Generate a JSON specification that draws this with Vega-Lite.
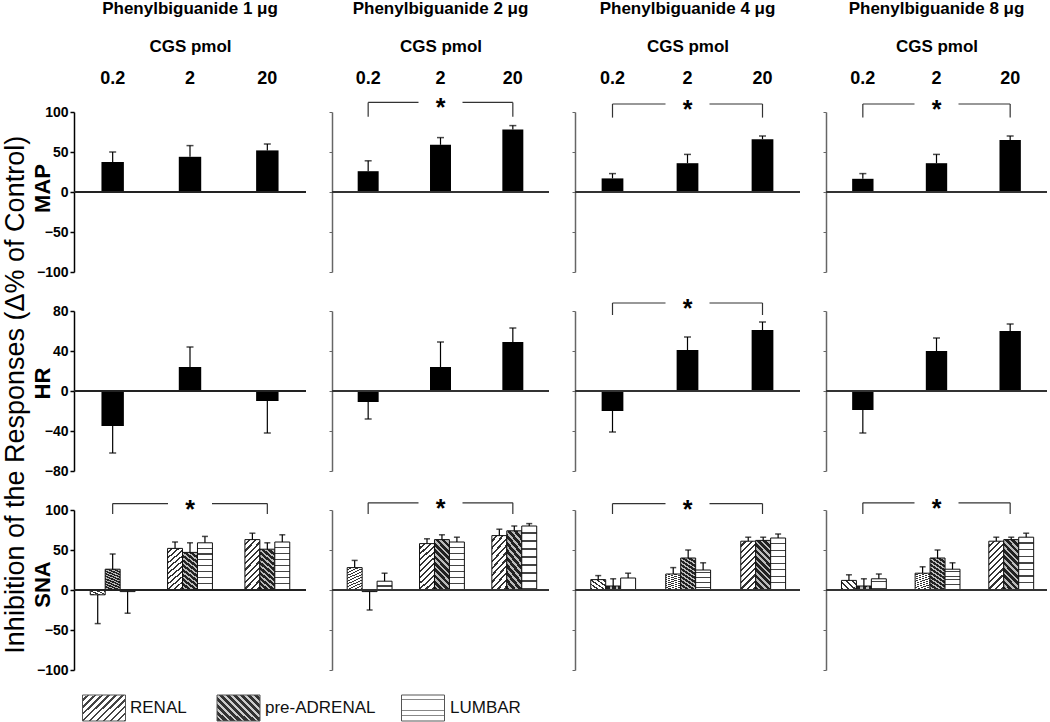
{
"$schema": "https://vega.github.io/schema/vega-lite/v6.json",
"padding": {"left": 1, "top": 0, "right": 0, "bottom": 0},
"config": {"font": "Liberation Sans", "view": {"stroke": null}, "axis": {"grid": false}, "axisY": {"tickCount": 10}, "title": {"fontSize": 17, "fontWeight": "bold", "offset": 19, "color": "#000"}},
"title": {"text": "Inhibition of the Responses (Δ% of Control)", "orient": "left", "anchor": "middle", "fontSize": 27, "fontWeight": "normal", "offset": 1, "dx": -34, "color": "#000"},
"datasets": {
"bars": [
{"param":"MAP","pbg":"1","cgs":"0.2","series":"all","value":37.5,"err":50},
{"param":"MAP","pbg":"1","cgs":"2","series":"all","value":44,"err":58},
{"param":"MAP","pbg":"1","cgs":"20","series":"all","value":52,"err":60},
{"param":"MAP","pbg":"2","cgs":"0.2","series":"all","value":26,"err":39},
{"param":"MAP","pbg":"2","cgs":"2","series":"all","value":59,"err":68},
{"param":"MAP","pbg":"2","cgs":"20","series":"all","value":78,"err":83},
{"param":"MAP","pbg":"4","cgs":"0.2","series":"all","value":17,"err":23},
{"param":"MAP","pbg":"4","cgs":"2","series":"all","value":36,"err":47},
{"param":"MAP","pbg":"4","cgs":"20","series":"all","value":66,"err":70},
{"param":"MAP","pbg":"8","cgs":"0.2","series":"all","value":16.5,"err":23},
{"param":"MAP","pbg":"8","cgs":"2","series":"all","value":36,"err":47},
{"param":"MAP","pbg":"8","cgs":"20","series":"all","value":65,"err":70},
{"param":"HR","pbg":"1","cgs":"0.2","series":"all","value":-35,"err":-62},
{"param":"HR","pbg":"1","cgs":"2","series":"all","value":24,"err":44},
{"param":"HR","pbg":"1","cgs":"20","series":"all","value":-10,"err":-42},
{"param":"HR","pbg":"2","cgs":"0.2","series":"all","value":-11,"err":-28},
{"param":"HR","pbg":"2","cgs":"2","series":"all","value":24,"err":49},
{"param":"HR","pbg":"2","cgs":"20","series":"all","value":49,"err":63},
{"param":"HR","pbg":"4","cgs":"0.2","series":"all","value":-20,"err":-41},
{"param":"HR","pbg":"4","cgs":"2","series":"all","value":41,"err":54},
{"param":"HR","pbg":"4","cgs":"20","series":"all","value":61,"err":69},
{"param":"HR","pbg":"8","cgs":"0.2","series":"all","value":-19,"err":-42},
{"param":"HR","pbg":"8","cgs":"2","series":"all","value":40,"err":53},
{"param":"HR","pbg":"8","cgs":"20","series":"all","value":60,"err":67},
{"param":"SNA","pbg":"1","cgs":"0.2","series":"RENAL","value":-6,"err":-42},
{"param":"SNA","pbg":"1","cgs":"0.2","series":"pre-ADRENAL","value":26,"err":45},
{"param":"SNA","pbg":"1","cgs":"0.2","series":"LUMBAR","value":-2,"err":-29},
{"param":"SNA","pbg":"1","cgs":"2","series":"RENAL","value":52,"err":60},
{"param":"SNA","pbg":"1","cgs":"2","series":"pre-ADRENAL","value":47,"err":59},
{"param":"SNA","pbg":"1","cgs":"2","series":"LUMBAR","value":59,"err":67},
{"param":"SNA","pbg":"1","cgs":"20","series":"RENAL","value":63,"err":71},
{"param":"SNA","pbg":"1","cgs":"20","series":"pre-ADRENAL","value":51,"err":59},
{"param":"SNA","pbg":"1","cgs":"20","series":"LUMBAR","value":60,"err":69},
{"param":"SNA","pbg":"2","cgs":"0.2","series":"RENAL","value":28,"err":37},
{"param":"SNA","pbg":"2","cgs":"0.2","series":"pre-ADRENAL","value":-2,"err":-25},
{"param":"SNA","pbg":"2","cgs":"0.2","series":"LUMBAR","value":11,"err":21},
{"param":"SNA","pbg":"2","cgs":"2","series":"RENAL","value":58,"err":64},
{"param":"SNA","pbg":"2","cgs":"2","series":"pre-ADRENAL","value":63,"err":69},
{"param":"SNA","pbg":"2","cgs":"2","series":"LUMBAR","value":60,"err":66},
{"param":"SNA","pbg":"2","cgs":"20","series":"RENAL","value":68,"err":76},
{"param":"SNA","pbg":"2","cgs":"20","series":"pre-ADRENAL","value":74,"err":80},
{"param":"SNA","pbg":"2","cgs":"20","series":"LUMBAR","value":80,"err":83},
{"param":"SNA","pbg":"4","cgs":"0.2","series":"RENAL","value":13,"err":18},
{"param":"SNA","pbg":"4","cgs":"0.2","series":"pre-ADRENAL","value":5,"err":14},
{"param":"SNA","pbg":"4","cgs":"0.2","series":"LUMBAR","value":15,"err":21},
{"param":"SNA","pbg":"4","cgs":"2","series":"RENAL","value":20,"err":28},
{"param":"SNA","pbg":"4","cgs":"2","series":"pre-ADRENAL","value":40,"err":50},
{"param":"SNA","pbg":"4","cgs":"2","series":"LUMBAR","value":25,"err":34},
{"param":"SNA","pbg":"4","cgs":"20","series":"RENAL","value":61,"err":66},
{"param":"SNA","pbg":"4","cgs":"20","series":"pre-ADRENAL","value":62,"err":66},
{"param":"SNA","pbg":"4","cgs":"20","series":"LUMBAR","value":65,"err":70},
{"param":"SNA","pbg":"8","cgs":"0.2","series":"RENAL","value":12,"err":19},
{"param":"SNA","pbg":"8","cgs":"0.2","series":"pre-ADRENAL","value":5,"err":14},
{"param":"SNA","pbg":"8","cgs":"0.2","series":"LUMBAR","value":14,"err":20},
{"param":"SNA","pbg":"8","cgs":"2","series":"RENAL","value":21,"err":29},
{"param":"SNA","pbg":"8","cgs":"2","series":"pre-ADRENAL","value":40,"err":50},
{"param":"SNA","pbg":"8","cgs":"2","series":"LUMBAR","value":26,"err":34},
{"param":"SNA","pbg":"8","cgs":"20","series":"RENAL","value":61,"err":66},
{"param":"SNA","pbg":"8","cgs":"20","series":"pre-ADRENAL","value":63,"err":66},
{"param":"SNA","pbg":"8","cgs":"20","series":"LUMBAR","value":66,"err":71}
],
"brackets": [
{"param":"MAP","pbg":"2","a":"0.2","m":"2","b":"20","top":112,"bot":94},
{"param":"MAP","pbg":"4","a":"0.2","m":"2","b":"20","top":110,"bot":93},
{"param":"MAP","pbg":"8","a":"0.2","m":"2","b":"20","top":110,"bot":93},
{"param":"HR","pbg":"4","a":"0.2","m":"2","b":"20","top":88,"bot":76},
{"param":"SNA","pbg":"1","a":"0.2","m":"2","b":"20","top":108,"bot":95},
{"param":"SNA","pbg":"2","a":"0.2","m":"2","b":"20","top":109,"bot":95},
{"param":"SNA","pbg":"4","a":"0.2","m":"2","b":"20","top":108,"bot":95},
{"param":"SNA","pbg":"8","a":"0.2","m":"2","b":"20","top":109,"bot":95}
]
},
"spacing": 17,
"vconcat": [
{"columns": 4, "bounds": "flush", "spacing": {"row": 39, "column": 26},
 "concat": [
{"width": 232, "height": 160, "title": {"text": "Phenylbiguanide 1 μg"}, "data": {"name": "bars"}, "transform": [{"filter": "datum.param === 'MAP' && datum.pbg === '1'"}],
 "layer": [
  {"mark": {"type": "bar", "color": "#000", "width": {"band": 0.5}}, "encoding": {"x": {"field": "cgs", "type": "nominal", "scale": {"domain": ["0.2","2","20"], "paddingInner": 0.42, "paddingOuter": 0.21}, "axis": {"orient": "top", "title": "CGS pmol", "titleFontSize": 17, "titleFontWeight": "bold", "titlePadding": 14, "labelFontSize": 18, "labelFontWeight": "bold", "labelPadding": 25, "labelAngle": 0, "domain": false, "ticks": false, "tickSize": 0, "labelColor": "#000", "titleColor": "#000"}}, "y": {"field": "value", "type": "quantitative", "scale": {"domain": [-100, 100]}, "axis": {"values": [-100,-50,0,50,100], "tickCount": 10, "labelOverlap": false, "title": "MAP", "titleX": -20, "titleY": 76, "titleFontSize": 22, "titleFontWeight": "bold", "labelFontSize": 14, "labelFontWeight": "bold", "labelPadding": 2, "tickSize": 4, "tickWidth": 1.5, "domainWidth": 1.5, "domainColor": "#000", "tickColor": "#000", "labelColor": "#000", "titleColor": "#000"}}}},
  {"mark": {"type": "rule", "color": "#000", "strokeWidth": 1.2}, "encoding": {"x": {"field": "cgs", "type": "nominal"}, "y": {"field": "value", "type": "quantitative"}, "y2": {"field": "err"}}},
  {"mark": {"type": "tick", "color": "#000", "thickness": 1.5, "size": 7}, "encoding": {"x": {"field": "cgs", "type": "nominal"}, "y": {"field": "err", "type": "quantitative"}}},
  {"mark": {"type": "rule", "color": "#222", "strokeWidth": 2}, "encoding": {"y": {"datum": 0}}}
 ]},
{"width": 217, "height": 160, "title": {"text": "Phenylbiguanide 2 μg"}, "data": {"name": "bars"}, "transform": [{"filter": "datum.param === 'MAP' && datum.pbg === '2'"}],
 "layer": [
  {"mark": {"type": "bar", "color": "#000", "width": {"band": 0.5}}, "encoding": {"x": {"field": "cgs", "type": "nominal", "scale": {"domain": ["0.2","2","20"], "paddingInner": 0.42, "paddingOuter": 0.21}, "axis": {"orient": "top", "title": "CGS pmol", "titleFontSize": 17, "titleFontWeight": "bold", "titlePadding": 14, "labelFontSize": 18, "labelFontWeight": "bold", "labelPadding": 25, "labelAngle": 0, "domain": false, "ticks": false, "tickSize": 0, "labelColor": "#000", "titleColor": "#000"}}, "y": {"field": "value", "type": "quantitative", "scale": {"domain": [-100, 100]}, "axis": {"values": [-100,-50,0,50,100], "tickCount": 10, "title": null, "labels": false, "tickSize": 3, "tickWidth": 1, "domainWidth": 1.5, "domainColor": "#666", "tickColor": "#666"}}}},
  {"mark": {"type": "rule", "color": "#000", "strokeWidth": 1.2}, "encoding": {"x": {"field": "cgs", "type": "nominal"}, "y": {"field": "value", "type": "quantitative"}, "y2": {"field": "err"}}},
  {"mark": {"type": "tick", "color": "#000", "thickness": 1.5, "size": 7}, "encoding": {"x": {"field": "cgs", "type": "nominal"}, "y": {"field": "err", "type": "quantitative"}}},
  {"mark": {"type": "rule", "color": "#333", "strokeWidth": 2}, "encoding": {"y": {"datum": 0}}},
  {"data": {"name": "brackets"}, "transform": [{"filter": "datum.param === 'MAP' && datum.pbg === '2'"}], "layer": [
    {"mark": {"type": "rule", "color": "#333", "strokeWidth": 1.2, "x2Offset": -22}, "encoding": {"x": {"field": "a", "type": "nominal"}, "x2": {"field": "m"}, "y": {"field": "top", "type": "quantitative"}}},
    {"mark": {"type": "rule", "color": "#333", "strokeWidth": 1.2, "xOffset": 22}, "encoding": {"x": {"field": "m", "type": "nominal"}, "x2": {"field": "b"}, "y": {"field": "top", "type": "quantitative"}}},
    {"mark": {"type": "rule", "color": "#333", "strokeWidth": 1.2}, "encoding": {"x": {"field": "a", "type": "nominal"}, "y": {"field": "top", "type": "quantitative"}, "y2": {"field": "bot"}}},
    {"mark": {"type": "rule", "color": "#333", "strokeWidth": 1.2}, "encoding": {"x": {"field": "b", "type": "nominal"}, "y": {"field": "top", "type": "quantitative"}, "y2": {"field": "bot"}}},
    {"mark": {"type": "text", "text": "*", "fontSize": 25, "fontWeight": "bold", "baseline": "middle", "dy": 6, "color": "#000"}, "encoding": {"x": {"field": "m", "type": "nominal"}, "y": {"field": "top", "type": "quantitative"}}}
  ]}
 ]},
{"width": 225, "height": 160, "title": {"text": "Phenylbiguanide 4 μg"}, "data": {"name": "bars"}, "transform": [{"filter": "datum.param === 'MAP' && datum.pbg === '4'"}],
 "layer": [
  {"mark": {"type": "bar", "color": "#000", "width": {"band": 0.5}}, "encoding": {"x": {"field": "cgs", "type": "nominal", "scale": {"domain": ["0.2","2","20"], "paddingInner": 0.42, "paddingOuter": 0.21}, "axis": {"orient": "top", "title": "CGS pmol", "titleFontSize": 17, "titleFontWeight": "bold", "titlePadding": 14, "labelFontSize": 18, "labelFontWeight": "bold", "labelPadding": 25, "labelAngle": 0, "domain": false, "ticks": false, "tickSize": 0, "labelColor": "#000", "titleColor": "#000"}}, "y": {"field": "value", "type": "quantitative", "scale": {"domain": [-100, 100]}, "axis": {"values": [-100,-50,0,50,100], "tickCount": 10, "title": null, "labels": false, "tickSize": 3, "tickWidth": 1, "domainWidth": 1.5, "domainColor": "#666", "tickColor": "#666"}}}},
  {"mark": {"type": "rule", "color": "#000", "strokeWidth": 1.2}, "encoding": {"x": {"field": "cgs", "type": "nominal"}, "y": {"field": "value", "type": "quantitative"}, "y2": {"field": "err"}}},
  {"mark": {"type": "tick", "color": "#000", "thickness": 1.5, "size": 7}, "encoding": {"x": {"field": "cgs", "type": "nominal"}, "y": {"field": "err", "type": "quantitative"}}},
  {"mark": {"type": "rule", "color": "#333", "strokeWidth": 2}, "encoding": {"y": {"datum": 0}}},
  {"data": {"name": "brackets"}, "transform": [{"filter": "datum.param === 'MAP' && datum.pbg === '4'"}], "layer": [
    {"mark": {"type": "rule", "color": "#333", "strokeWidth": 1.2, "x2Offset": -22}, "encoding": {"x": {"field": "a", "type": "nominal"}, "x2": {"field": "m"}, "y": {"field": "top", "type": "quantitative"}}},
    {"mark": {"type": "rule", "color": "#333", "strokeWidth": 1.2, "xOffset": 22}, "encoding": {"x": {"field": "m", "type": "nominal"}, "x2": {"field": "b"}, "y": {"field": "top", "type": "quantitative"}}},
    {"mark": {"type": "rule", "color": "#333", "strokeWidth": 1.2}, "encoding": {"x": {"field": "a", "type": "nominal"}, "y": {"field": "top", "type": "quantitative"}, "y2": {"field": "bot"}}},
    {"mark": {"type": "rule", "color": "#333", "strokeWidth": 1.2}, "encoding": {"x": {"field": "b", "type": "nominal"}, "y": {"field": "top", "type": "quantitative"}, "y2": {"field": "bot"}}},
    {"mark": {"type": "text", "text": "*", "fontSize": 25, "fontWeight": "bold", "baseline": "middle", "dy": 6, "color": "#000"}, "encoding": {"x": {"field": "m", "type": "nominal"}, "y": {"field": "top", "type": "quantitative"}}}
  ]}
 ]},
{"width": 221, "height": 160, "title": {"text": "Phenylbiguanide 8 μg"}, "data": {"name": "bars"}, "transform": [{"filter": "datum.param === 'MAP' && datum.pbg === '8'"}],
 "layer": [
  {"mark": {"type": "bar", "color": "#000", "width": {"band": 0.5}}, "encoding": {"x": {"field": "cgs", "type": "nominal", "scale": {"domain": ["0.2","2","20"], "paddingInner": 0.42, "paddingOuter": 0.21}, "axis": {"orient": "top", "title": "CGS pmol", "titleFontSize": 17, "titleFontWeight": "bold", "titlePadding": 14, "labelFontSize": 18, "labelFontWeight": "bold", "labelPadding": 25, "labelAngle": 0, "domain": false, "ticks": false, "tickSize": 0, "labelColor": "#000", "titleColor": "#000"}}, "y": {"field": "value", "type": "quantitative", "scale": {"domain": [-100, 100]}, "axis": {"values": [-100,-50,0,50,100], "tickCount": 10, "title": null, "labels": false, "tickSize": 3, "tickWidth": 1, "domainWidth": 1.5, "domainColor": "#666", "tickColor": "#666"}}}},
  {"mark": {"type": "rule", "color": "#000", "strokeWidth": 1.2}, "encoding": {"x": {"field": "cgs", "type": "nominal"}, "y": {"field": "value", "type": "quantitative"}, "y2": {"field": "err"}}},
  {"mark": {"type": "tick", "color": "#000", "thickness": 1.5, "size": 7}, "encoding": {"x": {"field": "cgs", "type": "nominal"}, "y": {"field": "err", "type": "quantitative"}}},
  {"mark": {"type": "rule", "color": "#333", "strokeWidth": 2}, "encoding": {"y": {"datum": 0}}},
  {"data": {"name": "brackets"}, "transform": [{"filter": "datum.param === 'MAP' && datum.pbg === '8'"}], "layer": [
    {"mark": {"type": "rule", "color": "#333", "strokeWidth": 1.2, "x2Offset": -22}, "encoding": {"x": {"field": "a", "type": "nominal"}, "x2": {"field": "m"}, "y": {"field": "top", "type": "quantitative"}}},
    {"mark": {"type": "rule", "color": "#333", "strokeWidth": 1.2, "xOffset": 22}, "encoding": {"x": {"field": "m", "type": "nominal"}, "x2": {"field": "b"}, "y": {"field": "top", "type": "quantitative"}}},
    {"mark": {"type": "rule", "color": "#333", "strokeWidth": 1.2}, "encoding": {"x": {"field": "a", "type": "nominal"}, "y": {"field": "top", "type": "quantitative"}, "y2": {"field": "bot"}}},
    {"mark": {"type": "rule", "color": "#333", "strokeWidth": 1.2}, "encoding": {"x": {"field": "b", "type": "nominal"}, "y": {"field": "top", "type": "quantitative"}, "y2": {"field": "bot"}}},
    {"mark": {"type": "text", "text": "*", "fontSize": 25, "fontWeight": "bold", "baseline": "middle", "dy": 6, "color": "#000"}, "encoding": {"x": {"field": "m", "type": "nominal"}, "y": {"field": "top", "type": "quantitative"}}}
  ]}
 ]},
{"width": 232, "height": 160, "data": {"name": "bars"}, "transform": [{"filter": "datum.param === 'HR' && datum.pbg === '1'"}],
 "layer": [
  {"mark": {"type": "bar", "color": "#000", "width": {"band": 0.5}}, "encoding": {"x": {"field": "cgs", "type": "nominal", "scale": {"domain": ["0.2","2","20"], "paddingInner": 0.42, "paddingOuter": 0.21}, "axis": null}, "y": {"field": "value", "type": "quantitative", "scale": {"domain": [-80, 80]}, "axis": {"values": [-80,-40,0,40,80], "tickCount": 10, "labelOverlap": false, "title": "HR", "titleX": -20, "titleY": 72, "titleFontSize": 22, "titleFontWeight": "bold", "labelFontSize": 14, "labelFontWeight": "bold", "labelPadding": 2, "tickSize": 4, "tickWidth": 1.5, "domainWidth": 1.5, "domainColor": "#000", "tickColor": "#000", "labelColor": "#000", "titleColor": "#000"}}}},
  {"mark": {"type": "rule", "color": "#000", "strokeWidth": 1.2}, "encoding": {"x": {"field": "cgs", "type": "nominal", "axis": null}, "y": {"field": "value", "type": "quantitative"}, "y2": {"field": "err"}}},
  {"mark": {"type": "tick", "color": "#000", "thickness": 1.5, "size": 7}, "encoding": {"x": {"field": "cgs", "type": "nominal", "axis": null}, "y": {"field": "err", "type": "quantitative"}}},
  {"mark": {"type": "rule", "color": "#222", "strokeWidth": 2}, "encoding": {"y": {"datum": 0}}}
 ]},
{"width": 217, "height": 160, "data": {"name": "bars"}, "transform": [{"filter": "datum.param === 'HR' && datum.pbg === '2'"}],
 "layer": [
  {"mark": {"type": "bar", "color": "#000", "width": {"band": 0.5}}, "encoding": {"x": {"field": "cgs", "type": "nominal", "scale": {"domain": ["0.2","2","20"], "paddingInner": 0.42, "paddingOuter": 0.21}, "axis": null}, "y": {"field": "value", "type": "quantitative", "scale": {"domain": [-80, 80]}, "axis": {"values": [-80,-40,0,40,80], "tickCount": 10, "title": null, "labels": false, "tickSize": 3, "tickWidth": 1, "domainWidth": 1.5, "domainColor": "#666", "tickColor": "#666"}}}},
  {"mark": {"type": "rule", "color": "#000", "strokeWidth": 1.2}, "encoding": {"x": {"field": "cgs", "type": "nominal", "axis": null}, "y": {"field": "value", "type": "quantitative"}, "y2": {"field": "err"}}},
  {"mark": {"type": "tick", "color": "#000", "thickness": 1.5, "size": 7}, "encoding": {"x": {"field": "cgs", "type": "nominal", "axis": null}, "y": {"field": "err", "type": "quantitative"}}},
  {"mark": {"type": "rule", "color": "#333", "strokeWidth": 2}, "encoding": {"y": {"datum": 0}}}
 ]},
{"width": 225, "height": 160, "data": {"name": "bars"}, "transform": [{"filter": "datum.param === 'HR' && datum.pbg === '4'"}],
 "layer": [
  {"mark": {"type": "bar", "color": "#000", "width": {"band": 0.5}}, "encoding": {"x": {"field": "cgs", "type": "nominal", "scale": {"domain": ["0.2","2","20"], "paddingInner": 0.42, "paddingOuter": 0.21}, "axis": null}, "y": {"field": "value", "type": "quantitative", "scale": {"domain": [-80, 80]}, "axis": {"values": [-80,-40,0,40,80], "tickCount": 10, "title": null, "labels": false, "tickSize": 3, "tickWidth": 1, "domainWidth": 1.5, "domainColor": "#666", "tickColor": "#666"}}}},
  {"mark": {"type": "rule", "color": "#000", "strokeWidth": 1.2}, "encoding": {"x": {"field": "cgs", "type": "nominal", "axis": null}, "y": {"field": "value", "type": "quantitative"}, "y2": {"field": "err"}}},
  {"mark": {"type": "tick", "color": "#000", "thickness": 1.5, "size": 7}, "encoding": {"x": {"field": "cgs", "type": "nominal", "axis": null}, "y": {"field": "err", "type": "quantitative"}}},
  {"mark": {"type": "rule", "color": "#333", "strokeWidth": 2}, "encoding": {"y": {"datum": 0}}},
  {"data": {"name": "brackets"}, "transform": [{"filter": "datum.param === 'HR' && datum.pbg === '4'"}], "layer": [
    {"mark": {"type": "rule", "color": "#333", "strokeWidth": 1.2, "x2Offset": -22}, "encoding": {"x": {"field": "a", "type": "nominal", "axis": null}, "x2": {"field": "m"}, "y": {"field": "top", "type": "quantitative"}}},
    {"mark": {"type": "rule", "color": "#333", "strokeWidth": 1.2, "xOffset": 22}, "encoding": {"x": {"field": "m", "type": "nominal", "axis": null}, "x2": {"field": "b"}, "y": {"field": "top", "type": "quantitative"}}},
    {"mark": {"type": "rule", "color": "#333", "strokeWidth": 1.2}, "encoding": {"x": {"field": "a", "type": "nominal", "axis": null}, "y": {"field": "top", "type": "quantitative"}, "y2": {"field": "bot"}}},
    {"mark": {"type": "rule", "color": "#333", "strokeWidth": 1.2}, "encoding": {"x": {"field": "b", "type": "nominal", "axis": null}, "y": {"field": "top", "type": "quantitative"}, "y2": {"field": "bot"}}},
    {"mark": {"type": "text", "text": "*", "fontSize": 25, "fontWeight": "bold", "baseline": "middle", "dy": 6, "color": "#000"}, "encoding": {"x": {"field": "m", "type": "nominal", "axis": null}, "y": {"field": "top", "type": "quantitative"}}}
  ]}
 ]},
{"width": 221, "height": 160, "data": {"name": "bars"}, "transform": [{"filter": "datum.param === 'HR' && datum.pbg === '8'"}],
 "layer": [
  {"mark": {"type": "bar", "color": "#000", "width": {"band": 0.5}}, "encoding": {"x": {"field": "cgs", "type": "nominal", "scale": {"domain": ["0.2","2","20"], "paddingInner": 0.42, "paddingOuter": 0.21}, "axis": null}, "y": {"field": "value", "type": "quantitative", "scale": {"domain": [-80, 80]}, "axis": {"values": [-80,-40,0,40,80], "tickCount": 10, "title": null, "labels": false, "tickSize": 3, "tickWidth": 1, "domainWidth": 1.5, "domainColor": "#666", "tickColor": "#666"}}}},
  {"mark": {"type": "rule", "color": "#000", "strokeWidth": 1.2}, "encoding": {"x": {"field": "cgs", "type": "nominal", "axis": null}, "y": {"field": "value", "type": "quantitative"}, "y2": {"field": "err"}}},
  {"mark": {"type": "tick", "color": "#000", "thickness": 1.5, "size": 7}, "encoding": {"x": {"field": "cgs", "type": "nominal", "axis": null}, "y": {"field": "err", "type": "quantitative"}}},
  {"mark": {"type": "rule", "color": "#333", "strokeWidth": 2}, "encoding": {"y": {"datum": 0}}}
 ]},
{"width": 232, "height": 160, "data": {"name": "bars"}, "transform": [{"filter": "datum.param === 'SNA' && datum.pbg === '1'"}],
 "layer": [
  {"transform": [{"filter": "datum.series === 'RENAL'"}], "mark": {"type": "bar", "stroke": "#111", "strokeWidth": 1, "fill": {"gradient":"linear","x1":0,"y1":0,"x2":0.35,"y2":1.15,"stops":[{"offset":0,"color":"#fff"},{"offset":0.065,"color":"#fff"},{"offset":0.065,"color":"#333"},{"offset":0.1,"color":"#333"},{"offset":0.1,"color":"#fff"},{"offset":0.165,"color":"#fff"},{"offset":0.165,"color":"#333"},{"offset":0.2,"color":"#333"},{"offset":0.2,"color":"#fff"},{"offset":0.265,"color":"#fff"},{"offset":0.265,"color":"#333"},{"offset":0.3,"color":"#333"},{"offset":0.3,"color":"#fff"},{"offset":0.365,"color":"#fff"},{"offset":0.365,"color":"#333"},{"offset":0.4,"color":"#333"},{"offset":0.4,"color":"#fff"},{"offset":0.465,"color":"#fff"},{"offset":0.465,"color":"#333"},{"offset":0.5,"color":"#333"},{"offset":0.5,"color":"#fff"},{"offset":0.565,"color":"#fff"},{"offset":0.565,"color":"#333"},{"offset":0.6,"color":"#333"},{"offset":0.6,"color":"#fff"},{"offset":0.665,"color":"#fff"},{"offset":0.665,"color":"#333"},{"offset":0.7,"color":"#333"},{"offset":0.7,"color":"#fff"},{"offset":0.765,"color":"#fff"},{"offset":0.765,"color":"#333"},{"offset":0.8,"color":"#333"},{"offset":0.8,"color":"#fff"},{"offset":0.865,"color":"#fff"},{"offset":0.865,"color":"#333"},{"offset":0.9,"color":"#333"},{"offset":0.9,"color":"#fff"},{"offset":0.965,"color":"#fff"},{"offset":0.965,"color":"#333"},{"offset":1,"color":"#333"}]}},
   "encoding": {"x": {"field": "cgs", "type": "nominal", "scale": {"domain": ["0.2","2","20"], "paddingInner": 0.42, "paddingOuter": 0.21}, "axis": null}, "xOffset": {"field": "series", "type": "nominal", "scale": {"domain": ["RENAL","pre-ADRENAL","LUMBAR"], "paddingInner": 0, "paddingOuter": 0}}, "y": {"field": "value", "type": "quantitative", "scale": {"domain": [-100, 100]}, "axis": {"values": [-100,-50,0,50,100], "tickCount": 10, "labelOverlap": false, "title": "SNA", "titleX": -20, "titleY": 74, "titleFontSize": 22, "titleFontWeight": "bold", "labelFontSize": 14, "labelFontWeight": "bold", "labelPadding": 2, "tickSize": 4, "tickWidth": 1.5, "domainWidth": 1.5, "domainColor": "#000", "tickColor": "#000", "labelColor": "#000", "titleColor": "#000"}}}},
  {"transform": [{"filter": "datum.series === 'pre-ADRENAL'"}], "mark": {"type": "bar", "stroke": "#111", "strokeWidth": 1, "fill": {"gradient":"linear","x1":0,"y1":1,"x2":0.35,"y2":-0.15,"stops":[{"offset":0,"color":"#222"},{"offset":0.06,"color":"#222"},{"offset":0.06,"color":"#bbb"},{"offset":0.1,"color":"#bbb"},{"offset":0.1,"color":"#222"},{"offset":0.16,"color":"#222"},{"offset":0.16,"color":"#bbb"},{"offset":0.2,"color":"#bbb"},{"offset":0.2,"color":"#222"},{"offset":0.26,"color":"#222"},{"offset":0.26,"color":"#bbb"},{"offset":0.3,"color":"#bbb"},{"offset":0.3,"color":"#222"},{"offset":0.36,"color":"#222"},{"offset":0.36,"color":"#bbb"},{"offset":0.4,"color":"#bbb"},{"offset":0.4,"color":"#222"},{"offset":0.46,"color":"#222"},{"offset":0.46,"color":"#bbb"},{"offset":0.5,"color":"#bbb"},{"offset":0.5,"color":"#222"},{"offset":0.56,"color":"#222"},{"offset":0.56,"color":"#bbb"},{"offset":0.6,"color":"#bbb"},{"offset":0.6,"color":"#222"},{"offset":0.66,"color":"#222"},{"offset":0.66,"color":"#bbb"},{"offset":0.7,"color":"#bbb"},{"offset":0.7,"color":"#222"},{"offset":0.76,"color":"#222"},{"offset":0.76,"color":"#bbb"},{"offset":0.8,"color":"#bbb"},{"offset":0.8,"color":"#222"},{"offset":0.86,"color":"#222"},{"offset":0.86,"color":"#bbb"},{"offset":0.9,"color":"#bbb"},{"offset":0.9,"color":"#222"},{"offset":0.96,"color":"#222"},{"offset":0.96,"color":"#bbb"},{"offset":1,"color":"#bbb"}]}},
   "encoding": {"x": {"field": "cgs", "type": "nominal", "axis": null}, "xOffset": {"field": "series", "type": "nominal", "scale": {"domain": ["RENAL","pre-ADRENAL","LUMBAR"]}}, "y": {"field": "value", "type": "quantitative"}}},
  {"transform": [{"filter": "datum.series === 'LUMBAR'"}], "mark": {"type": "bar", "stroke": "#111", "strokeWidth": 1, "fill": {"gradient":"linear","x1":0,"y1":0,"x2":0,"y2":1,"stops":[{"offset":0,"color":"#fff"},{"offset":0.1,"color":"#fff"},{"offset":0.1,"color":"#444"},{"offset":0.125,"color":"#444"},{"offset":0.125,"color":"#fff"},{"offset":0.225,"color":"#fff"},{"offset":0.225,"color":"#444"},{"offset":0.25,"color":"#444"},{"offset":0.25,"color":"#fff"},{"offset":0.35,"color":"#fff"},{"offset":0.35,"color":"#444"},{"offset":0.375,"color":"#444"},{"offset":0.375,"color":"#fff"},{"offset":0.475,"color":"#fff"},{"offset":0.475,"color":"#444"},{"offset":0.5,"color":"#444"},{"offset":0.5,"color":"#fff"},{"offset":0.6,"color":"#fff"},{"offset":0.6,"color":"#444"},{"offset":0.625,"color":"#444"},{"offset":0.625,"color":"#fff"},{"offset":0.725,"color":"#fff"},{"offset":0.725,"color":"#444"},{"offset":0.75,"color":"#444"},{"offset":0.75,"color":"#fff"},{"offset":0.85,"color":"#fff"},{"offset":0.85,"color":"#444"},{"offset":0.875,"color":"#444"},{"offset":0.875,"color":"#fff"},{"offset":0.975,"color":"#fff"},{"offset":0.975,"color":"#444"},{"offset":1,"color":"#444"}]}},
   "encoding": {"x": {"field": "cgs", "type": "nominal", "axis": null}, "xOffset": {"field": "series", "type": "nominal", "scale": {"domain": ["RENAL","pre-ADRENAL","LUMBAR"]}}, "y": {"field": "value", "type": "quantitative"}}},
  {"mark": {"type": "rule", "color": "#000", "strokeWidth": 1.2}, "encoding": {"x": {"field": "cgs", "type": "nominal", "axis": null}, "xOffset": {"field": "series", "type": "nominal", "scale": {"domain": ["RENAL","pre-ADRENAL","LUMBAR"]}}, "y": {"field": "value", "type": "quantitative"}, "y2": {"field": "err"}}},
  {"mark": {"type": "tick", "color": "#000", "thickness": 1.5, "size": 6}, "encoding": {"x": {"field": "cgs", "type": "nominal", "axis": null}, "xOffset": {"field": "series", "type": "nominal", "scale": {"domain": ["RENAL","pre-ADRENAL","LUMBAR"]}}, "y": {"field": "err", "type": "quantitative"}}},
  {"mark": {"type": "rule", "color": "#222", "strokeWidth": 2}, "encoding": {"y": {"datum": 0}}},
  {"data": {"name": "brackets"}, "transform": [{"filter": "datum.param === 'SNA' && datum.pbg === '1'"}], "layer": [
    {"mark": {"type": "rule", "color": "#333", "strokeWidth": 1.2, "x2Offset": -22}, "encoding": {"x": {"field": "a", "type": "nominal", "axis": null}, "x2": {"field": "m"}, "y": {"field": "top", "type": "quantitative"}}},
    {"mark": {"type": "rule", "color": "#333", "strokeWidth": 1.2, "xOffset": 22}, "encoding": {"x": {"field": "m", "type": "nominal", "axis": null}, "x2": {"field": "b"}, "y": {"field": "top", "type": "quantitative"}}},
    {"mark": {"type": "rule", "color": "#333", "strokeWidth": 1.2}, "encoding": {"x": {"field": "a", "type": "nominal", "axis": null}, "y": {"field": "top", "type": "quantitative"}, "y2": {"field": "bot"}}},
    {"mark": {"type": "rule", "color": "#333", "strokeWidth": 1.2}, "encoding": {"x": {"field": "b", "type": "nominal", "axis": null}, "y": {"field": "top", "type": "quantitative"}, "y2": {"field": "bot"}}},
    {"mark": {"type": "text", "text": "*", "fontSize": 25, "fontWeight": "bold", "baseline": "middle", "dy": 6, "color": "#000"}, "encoding": {"x": {"field": "m", "type": "nominal", "axis": null}, "y": {"field": "top", "type": "quantitative"}}}
  ]}
 ]},
{"width": 217, "height": 160, "data": {"name": "bars"}, "transform": [{"filter": "datum.param === 'SNA' && datum.pbg === '2'"}],
 "layer": [
  {"transform": [{"filter": "datum.series === 'RENAL'"}], "mark": {"type": "bar", "stroke": "#111", "strokeWidth": 1, "fill": {"gradient":"linear","x1":0,"y1":0,"x2":0.35,"y2":1.15,"stops":[{"offset":0,"color":"#fff"},{"offset":0.065,"color":"#fff"},{"offset":0.065,"color":"#333"},{"offset":0.1,"color":"#333"},{"offset":0.1,"color":"#fff"},{"offset":0.165,"color":"#fff"},{"offset":0.165,"color":"#333"},{"offset":0.2,"color":"#333"},{"offset":0.2,"color":"#fff"},{"offset":0.265,"color":"#fff"},{"offset":0.265,"color":"#333"},{"offset":0.3,"color":"#333"},{"offset":0.3,"color":"#fff"},{"offset":0.365,"color":"#fff"},{"offset":0.365,"color":"#333"},{"offset":0.4,"color":"#333"},{"offset":0.4,"color":"#fff"},{"offset":0.465,"color":"#fff"},{"offset":0.465,"color":"#333"},{"offset":0.5,"color":"#333"},{"offset":0.5,"color":"#fff"},{"offset":0.565,"color":"#fff"},{"offset":0.565,"color":"#333"},{"offset":0.6,"color":"#333"},{"offset":0.6,"color":"#fff"},{"offset":0.665,"color":"#fff"},{"offset":0.665,"color":"#333"},{"offset":0.7,"color":"#333"},{"offset":0.7,"color":"#fff"},{"offset":0.765,"color":"#fff"},{"offset":0.765,"color":"#333"},{"offset":0.8,"color":"#333"},{"offset":0.8,"color":"#fff"},{"offset":0.865,"color":"#fff"},{"offset":0.865,"color":"#333"},{"offset":0.9,"color":"#333"},{"offset":0.9,"color":"#fff"},{"offset":0.965,"color":"#fff"},{"offset":0.965,"color":"#333"},{"offset":1,"color":"#333"}]}},
   "encoding": {"x": {"field": "cgs", "type": "nominal", "scale": {"domain": ["0.2","2","20"], "paddingInner": 0.42, "paddingOuter": 0.21}, "axis": null}, "xOffset": {"field": "series", "type": "nominal", "scale": {"domain": ["RENAL","pre-ADRENAL","LUMBAR"], "paddingInner": 0, "paddingOuter": 0}}, "y": {"field": "value", "type": "quantitative", "scale": {"domain": [-100, 100]}, "axis": {"values": [-100,-50,0,50,100], "tickCount": 10, "title": null, "labels": false, "tickSize": 3, "tickWidth": 1, "domainWidth": 1.5, "domainColor": "#666", "tickColor": "#666"}}}},
  {"transform": [{"filter": "datum.series === 'pre-ADRENAL'"}], "mark": {"type": "bar", "stroke": "#111", "strokeWidth": 1, "fill": {"gradient":"linear","x1":0,"y1":1,"x2":0.35,"y2":-0.15,"stops":[{"offset":0,"color":"#222"},{"offset":0.06,"color":"#222"},{"offset":0.06,"color":"#bbb"},{"offset":0.1,"color":"#bbb"},{"offset":0.1,"color":"#222"},{"offset":0.16,"color":"#222"},{"offset":0.16,"color":"#bbb"},{"offset":0.2,"color":"#bbb"},{"offset":0.2,"color":"#222"},{"offset":0.26,"color":"#222"},{"offset":0.26,"color":"#bbb"},{"offset":0.3,"color":"#bbb"},{"offset":0.3,"color":"#222"},{"offset":0.36,"color":"#222"},{"offset":0.36,"color":"#bbb"},{"offset":0.4,"color":"#bbb"},{"offset":0.4,"color":"#222"},{"offset":0.46,"color":"#222"},{"offset":0.46,"color":"#bbb"},{"offset":0.5,"color":"#bbb"},{"offset":0.5,"color":"#222"},{"offset":0.56,"color":"#222"},{"offset":0.56,"color":"#bbb"},{"offset":0.6,"color":"#bbb"},{"offset":0.6,"color":"#222"},{"offset":0.66,"color":"#222"},{"offset":0.66,"color":"#bbb"},{"offset":0.7,"color":"#bbb"},{"offset":0.7,"color":"#222"},{"offset":0.76,"color":"#222"},{"offset":0.76,"color":"#bbb"},{"offset":0.8,"color":"#bbb"},{"offset":0.8,"color":"#222"},{"offset":0.86,"color":"#222"},{"offset":0.86,"color":"#bbb"},{"offset":0.9,"color":"#bbb"},{"offset":0.9,"color":"#222"},{"offset":0.96,"color":"#222"},{"offset":0.96,"color":"#bbb"},{"offset":1,"color":"#bbb"}]}},
   "encoding": {"x": {"field": "cgs", "type": "nominal", "axis": null}, "xOffset": {"field": "series", "type": "nominal", "scale": {"domain": ["RENAL","pre-ADRENAL","LUMBAR"]}}, "y": {"field": "value", "type": "quantitative"}}},
  {"transform": [{"filter": "datum.series === 'LUMBAR'"}], "mark": {"type": "bar", "stroke": "#111", "strokeWidth": 1, "fill": {"gradient":"linear","x1":0,"y1":0,"x2":0,"y2":1,"stops":[{"offset":0,"color":"#fff"},{"offset":0.1,"color":"#fff"},{"offset":0.1,"color":"#444"},{"offset":0.125,"color":"#444"},{"offset":0.125,"color":"#fff"},{"offset":0.225,"color":"#fff"},{"offset":0.225,"color":"#444"},{"offset":0.25,"color":"#444"},{"offset":0.25,"color":"#fff"},{"offset":0.35,"color":"#fff"},{"offset":0.35,"color":"#444"},{"offset":0.375,"color":"#444"},{"offset":0.375,"color":"#fff"},{"offset":0.475,"color":"#fff"},{"offset":0.475,"color":"#444"},{"offset":0.5,"color":"#444"},{"offset":0.5,"color":"#fff"},{"offset":0.6,"color":"#fff"},{"offset":0.6,"color":"#444"},{"offset":0.625,"color":"#444"},{"offset":0.625,"color":"#fff"},{"offset":0.725,"color":"#fff"},{"offset":0.725,"color":"#444"},{"offset":0.75,"color":"#444"},{"offset":0.75,"color":"#fff"},{"offset":0.85,"color":"#fff"},{"offset":0.85,"color":"#444"},{"offset":0.875,"color":"#444"},{"offset":0.875,"color":"#fff"},{"offset":0.975,"color":"#fff"},{"offset":0.975,"color":"#444"},{"offset":1,"color":"#444"}]}},
   "encoding": {"x": {"field": "cgs", "type": "nominal", "axis": null}, "xOffset": {"field": "series", "type": "nominal", "scale": {"domain": ["RENAL","pre-ADRENAL","LUMBAR"]}}, "y": {"field": "value", "type": "quantitative"}}},
  {"mark": {"type": "rule", "color": "#000", "strokeWidth": 1.2}, "encoding": {"x": {"field": "cgs", "type": "nominal", "axis": null}, "xOffset": {"field": "series", "type": "nominal", "scale": {"domain": ["RENAL","pre-ADRENAL","LUMBAR"]}}, "y": {"field": "value", "type": "quantitative"}, "y2": {"field": "err"}}},
  {"mark": {"type": "tick", "color": "#000", "thickness": 1.5, "size": 6}, "encoding": {"x": {"field": "cgs", "type": "nominal", "axis": null}, "xOffset": {"field": "series", "type": "nominal", "scale": {"domain": ["RENAL","pre-ADRENAL","LUMBAR"]}}, "y": {"field": "err", "type": "quantitative"}}},
  {"mark": {"type": "rule", "color": "#333", "strokeWidth": 2}, "encoding": {"y": {"datum": 0}}},
  {"data": {"name": "brackets"}, "transform": [{"filter": "datum.param === 'SNA' && datum.pbg === '2'"}], "layer": [
    {"mark": {"type": "rule", "color": "#333", "strokeWidth": 1.2, "x2Offset": -22}, "encoding": {"x": {"field": "a", "type": "nominal", "axis": null}, "x2": {"field": "m"}, "y": {"field": "top", "type": "quantitative"}}},
    {"mark": {"type": "rule", "color": "#333", "strokeWidth": 1.2, "xOffset": 22}, "encoding": {"x": {"field": "m", "type": "nominal", "axis": null}, "x2": {"field": "b"}, "y": {"field": "top", "type": "quantitative"}}},
    {"mark": {"type": "rule", "color": "#333", "strokeWidth": 1.2}, "encoding": {"x": {"field": "a", "type": "nominal", "axis": null}, "y": {"field": "top", "type": "quantitative"}, "y2": {"field": "bot"}}},
    {"mark": {"type": "rule", "color": "#333", "strokeWidth": 1.2}, "encoding": {"x": {"field": "b", "type": "nominal", "axis": null}, "y": {"field": "top", "type": "quantitative"}, "y2": {"field": "bot"}}},
    {"mark": {"type": "text", "text": "*", "fontSize": 25, "fontWeight": "bold", "baseline": "middle", "dy": 6, "color": "#000"}, "encoding": {"x": {"field": "m", "type": "nominal", "axis": null}, "y": {"field": "top", "type": "quantitative"}}}
  ]}
 ]},
{"width": 225, "height": 160, "data": {"name": "bars"}, "transform": [{"filter": "datum.param === 'SNA' && datum.pbg === '4'"}],
 "layer": [
  {"transform": [{"filter": "datum.series === 'RENAL'"}], "mark": {"type": "bar", "stroke": "#111", "strokeWidth": 1, "fill": {"gradient":"linear","x1":0,"y1":0,"x2":0.35,"y2":1.15,"stops":[{"offset":0,"color":"#fff"},{"offset":0.065,"color":"#fff"},{"offset":0.065,"color":"#333"},{"offset":0.1,"color":"#333"},{"offset":0.1,"color":"#fff"},{"offset":0.165,"color":"#fff"},{"offset":0.165,"color":"#333"},{"offset":0.2,"color":"#333"},{"offset":0.2,"color":"#fff"},{"offset":0.265,"color":"#fff"},{"offset":0.265,"color":"#333"},{"offset":0.3,"color":"#333"},{"offset":0.3,"color":"#fff"},{"offset":0.365,"color":"#fff"},{"offset":0.365,"color":"#333"},{"offset":0.4,"color":"#333"},{"offset":0.4,"color":"#fff"},{"offset":0.465,"color":"#fff"},{"offset":0.465,"color":"#333"},{"offset":0.5,"color":"#333"},{"offset":0.5,"color":"#fff"},{"offset":0.565,"color":"#fff"},{"offset":0.565,"color":"#333"},{"offset":0.6,"color":"#333"},{"offset":0.6,"color":"#fff"},{"offset":0.665,"color":"#fff"},{"offset":0.665,"color":"#333"},{"offset":0.7,"color":"#333"},{"offset":0.7,"color":"#fff"},{"offset":0.765,"color":"#fff"},{"offset":0.765,"color":"#333"},{"offset":0.8,"color":"#333"},{"offset":0.8,"color":"#fff"},{"offset":0.865,"color":"#fff"},{"offset":0.865,"color":"#333"},{"offset":0.9,"color":"#333"},{"offset":0.9,"color":"#fff"},{"offset":0.965,"color":"#fff"},{"offset":0.965,"color":"#333"},{"offset":1,"color":"#333"}]}},
   "encoding": {"x": {"field": "cgs", "type": "nominal", "scale": {"domain": ["0.2","2","20"], "paddingInner": 0.42, "paddingOuter": 0.21}, "axis": null}, "xOffset": {"field": "series", "type": "nominal", "scale": {"domain": ["RENAL","pre-ADRENAL","LUMBAR"], "paddingInner": 0, "paddingOuter": 0}}, "y": {"field": "value", "type": "quantitative", "scale": {"domain": [-100, 100]}, "axis": {"values": [-100,-50,0,50,100], "tickCount": 10, "title": null, "labels": false, "tickSize": 3, "tickWidth": 1, "domainWidth": 1.5, "domainColor": "#666", "tickColor": "#666"}}}},
  {"transform": [{"filter": "datum.series === 'pre-ADRENAL'"}], "mark": {"type": "bar", "stroke": "#111", "strokeWidth": 1, "fill": {"gradient":"linear","x1":0,"y1":1,"x2":0.35,"y2":-0.15,"stops":[{"offset":0,"color":"#222"},{"offset":0.06,"color":"#222"},{"offset":0.06,"color":"#bbb"},{"offset":0.1,"color":"#bbb"},{"offset":0.1,"color":"#222"},{"offset":0.16,"color":"#222"},{"offset":0.16,"color":"#bbb"},{"offset":0.2,"color":"#bbb"},{"offset":0.2,"color":"#222"},{"offset":0.26,"color":"#222"},{"offset":0.26,"color":"#bbb"},{"offset":0.3,"color":"#bbb"},{"offset":0.3,"color":"#222"},{"offset":0.36,"color":"#222"},{"offset":0.36,"color":"#bbb"},{"offset":0.4,"color":"#bbb"},{"offset":0.4,"color":"#222"},{"offset":0.46,"color":"#222"},{"offset":0.46,"color":"#bbb"},{"offset":0.5,"color":"#bbb"},{"offset":0.5,"color":"#222"},{"offset":0.56,"color":"#222"},{"offset":0.56,"color":"#bbb"},{"offset":0.6,"color":"#bbb"},{"offset":0.6,"color":"#222"},{"offset":0.66,"color":"#222"},{"offset":0.66,"color":"#bbb"},{"offset":0.7,"color":"#bbb"},{"offset":0.7,"color":"#222"},{"offset":0.76,"color":"#222"},{"offset":0.76,"color":"#bbb"},{"offset":0.8,"color":"#bbb"},{"offset":0.8,"color":"#222"},{"offset":0.86,"color":"#222"},{"offset":0.86,"color":"#bbb"},{"offset":0.9,"color":"#bbb"},{"offset":0.9,"color":"#222"},{"offset":0.96,"color":"#222"},{"offset":0.96,"color":"#bbb"},{"offset":1,"color":"#bbb"}]}},
   "encoding": {"x": {"field": "cgs", "type": "nominal", "axis": null}, "xOffset": {"field": "series", "type": "nominal", "scale": {"domain": ["RENAL","pre-ADRENAL","LUMBAR"]}}, "y": {"field": "value", "type": "quantitative"}}},
  {"transform": [{"filter": "datum.series === 'LUMBAR'"}], "mark": {"type": "bar", "stroke": "#111", "strokeWidth": 1, "fill": {"gradient":"linear","x1":0,"y1":0,"x2":0,"y2":1,"stops":[{"offset":0,"color":"#fff"},{"offset":0.1,"color":"#fff"},{"offset":0.1,"color":"#444"},{"offset":0.125,"color":"#444"},{"offset":0.125,"color":"#fff"},{"offset":0.225,"color":"#fff"},{"offset":0.225,"color":"#444"},{"offset":0.25,"color":"#444"},{"offset":0.25,"color":"#fff"},{"offset":0.35,"color":"#fff"},{"offset":0.35,"color":"#444"},{"offset":0.375,"color":"#444"},{"offset":0.375,"color":"#fff"},{"offset":0.475,"color":"#fff"},{"offset":0.475,"color":"#444"},{"offset":0.5,"color":"#444"},{"offset":0.5,"color":"#fff"},{"offset":0.6,"color":"#fff"},{"offset":0.6,"color":"#444"},{"offset":0.625,"color":"#444"},{"offset":0.625,"color":"#fff"},{"offset":0.725,"color":"#fff"},{"offset":0.725,"color":"#444"},{"offset":0.75,"color":"#444"},{"offset":0.75,"color":"#fff"},{"offset":0.85,"color":"#fff"},{"offset":0.85,"color":"#444"},{"offset":0.875,"color":"#444"},{"offset":0.875,"color":"#fff"},{"offset":0.975,"color":"#fff"},{"offset":0.975,"color":"#444"},{"offset":1,"color":"#444"}]}},
   "encoding": {"x": {"field": "cgs", "type": "nominal", "axis": null}, "xOffset": {"field": "series", "type": "nominal", "scale": {"domain": ["RENAL","pre-ADRENAL","LUMBAR"]}}, "y": {"field": "value", "type": "quantitative"}}},
  {"mark": {"type": "rule", "color": "#000", "strokeWidth": 1.2}, "encoding": {"x": {"field": "cgs", "type": "nominal", "axis": null}, "xOffset": {"field": "series", "type": "nominal", "scale": {"domain": ["RENAL","pre-ADRENAL","LUMBAR"]}}, "y": {"field": "value", "type": "quantitative"}, "y2": {"field": "err"}}},
  {"mark": {"type": "tick", "color": "#000", "thickness": 1.5, "size": 6}, "encoding": {"x": {"field": "cgs", "type": "nominal", "axis": null}, "xOffset": {"field": "series", "type": "nominal", "scale": {"domain": ["RENAL","pre-ADRENAL","LUMBAR"]}}, "y": {"field": "err", "type": "quantitative"}}},
  {"mark": {"type": "rule", "color": "#333", "strokeWidth": 2}, "encoding": {"y": {"datum": 0}}},
  {"data": {"name": "brackets"}, "transform": [{"filter": "datum.param === 'SNA' && datum.pbg === '4'"}], "layer": [
    {"mark": {"type": "rule", "color": "#333", "strokeWidth": 1.2, "x2Offset": -22}, "encoding": {"x": {"field": "a", "type": "nominal", "axis": null}, "x2": {"field": "m"}, "y": {"field": "top", "type": "quantitative"}}},
    {"mark": {"type": "rule", "color": "#333", "strokeWidth": 1.2, "xOffset": 22}, "encoding": {"x": {"field": "m", "type": "nominal", "axis": null}, "x2": {"field": "b"}, "y": {"field": "top", "type": "quantitative"}}},
    {"mark": {"type": "rule", "color": "#333", "strokeWidth": 1.2}, "encoding": {"x": {"field": "a", "type": "nominal", "axis": null}, "y": {"field": "top", "type": "quantitative"}, "y2": {"field": "bot"}}},
    {"mark": {"type": "rule", "color": "#333", "strokeWidth": 1.2}, "encoding": {"x": {"field": "b", "type": "nominal", "axis": null}, "y": {"field": "top", "type": "quantitative"}, "y2": {"field": "bot"}}},
    {"mark": {"type": "text", "text": "*", "fontSize": 25, "fontWeight": "bold", "baseline": "middle", "dy": 6, "color": "#000"}, "encoding": {"x": {"field": "m", "type": "nominal", "axis": null}, "y": {"field": "top", "type": "quantitative"}}}
  ]}
 ]},
{"width": 221, "height": 160, "data": {"name": "bars"}, "transform": [{"filter": "datum.param === 'SNA' && datum.pbg === '8'"}],
 "layer": [
  {"transform": [{"filter": "datum.series === 'RENAL'"}], "mark": {"type": "bar", "stroke": "#111", "strokeWidth": 1, "fill": {"gradient":"linear","x1":0,"y1":0,"x2":0.35,"y2":1.15,"stops":[{"offset":0,"color":"#fff"},{"offset":0.065,"color":"#fff"},{"offset":0.065,"color":"#333"},{"offset":0.1,"color":"#333"},{"offset":0.1,"color":"#fff"},{"offset":0.165,"color":"#fff"},{"offset":0.165,"color":"#333"},{"offset":0.2,"color":"#333"},{"offset":0.2,"color":"#fff"},{"offset":0.265,"color":"#fff"},{"offset":0.265,"color":"#333"},{"offset":0.3,"color":"#333"},{"offset":0.3,"color":"#fff"},{"offset":0.365,"color":"#fff"},{"offset":0.365,"color":"#333"},{"offset":0.4,"color":"#333"},{"offset":0.4,"color":"#fff"},{"offset":0.465,"color":"#fff"},{"offset":0.465,"color":"#333"},{"offset":0.5,"color":"#333"},{"offset":0.5,"color":"#fff"},{"offset":0.565,"color":"#fff"},{"offset":0.565,"color":"#333"},{"offset":0.6,"color":"#333"},{"offset":0.6,"color":"#fff"},{"offset":0.665,"color":"#fff"},{"offset":0.665,"color":"#333"},{"offset":0.7,"color":"#333"},{"offset":0.7,"color":"#fff"},{"offset":0.765,"color":"#fff"},{"offset":0.765,"color":"#333"},{"offset":0.8,"color":"#333"},{"offset":0.8,"color":"#fff"},{"offset":0.865,"color":"#fff"},{"offset":0.865,"color":"#333"},{"offset":0.9,"color":"#333"},{"offset":0.9,"color":"#fff"},{"offset":0.965,"color":"#fff"},{"offset":0.965,"color":"#333"},{"offset":1,"color":"#333"}]}},
   "encoding": {"x": {"field": "cgs", "type": "nominal", "scale": {"domain": ["0.2","2","20"], "paddingInner": 0.42, "paddingOuter": 0.21}, "axis": null}, "xOffset": {"field": "series", "type": "nominal", "scale": {"domain": ["RENAL","pre-ADRENAL","LUMBAR"], "paddingInner": 0, "paddingOuter": 0}}, "y": {"field": "value", "type": "quantitative", "scale": {"domain": [-100, 100]}, "axis": {"values": [-100,-50,0,50,100], "tickCount": 10, "title": null, "labels": false, "tickSize": 3, "tickWidth": 1, "domainWidth": 1.5, "domainColor": "#666", "tickColor": "#666"}}}},
  {"transform": [{"filter": "datum.series === 'pre-ADRENAL'"}], "mark": {"type": "bar", "stroke": "#111", "strokeWidth": 1, "fill": {"gradient":"linear","x1":0,"y1":1,"x2":0.35,"y2":-0.15,"stops":[{"offset":0,"color":"#222"},{"offset":0.06,"color":"#222"},{"offset":0.06,"color":"#bbb"},{"offset":0.1,"color":"#bbb"},{"offset":0.1,"color":"#222"},{"offset":0.16,"color":"#222"},{"offset":0.16,"color":"#bbb"},{"offset":0.2,"color":"#bbb"},{"offset":0.2,"color":"#222"},{"offset":0.26,"color":"#222"},{"offset":0.26,"color":"#bbb"},{"offset":0.3,"color":"#bbb"},{"offset":0.3,"color":"#222"},{"offset":0.36,"color":"#222"},{"offset":0.36,"color":"#bbb"},{"offset":0.4,"color":"#bbb"},{"offset":0.4,"color":"#222"},{"offset":0.46,"color":"#222"},{"offset":0.46,"color":"#bbb"},{"offset":0.5,"color":"#bbb"},{"offset":0.5,"color":"#222"},{"offset":0.56,"color":"#222"},{"offset":0.56,"color":"#bbb"},{"offset":0.6,"color":"#bbb"},{"offset":0.6,"color":"#222"},{"offset":0.66,"color":"#222"},{"offset":0.66,"color":"#bbb"},{"offset":0.7,"color":"#bbb"},{"offset":0.7,"color":"#222"},{"offset":0.76,"color":"#222"},{"offset":0.76,"color":"#bbb"},{"offset":0.8,"color":"#bbb"},{"offset":0.8,"color":"#222"},{"offset":0.86,"color":"#222"},{"offset":0.86,"color":"#bbb"},{"offset":0.9,"color":"#bbb"},{"offset":0.9,"color":"#222"},{"offset":0.96,"color":"#222"},{"offset":0.96,"color":"#bbb"},{"offset":1,"color":"#bbb"}]}},
   "encoding": {"x": {"field": "cgs", "type": "nominal", "axis": null}, "xOffset": {"field": "series", "type": "nominal", "scale": {"domain": ["RENAL","pre-ADRENAL","LUMBAR"]}}, "y": {"field": "value", "type": "quantitative"}}},
  {"transform": [{"filter": "datum.series === 'LUMBAR'"}], "mark": {"type": "bar", "stroke": "#111", "strokeWidth": 1, "fill": {"gradient":"linear","x1":0,"y1":0,"x2":0,"y2":1,"stops":[{"offset":0,"color":"#fff"},{"offset":0.1,"color":"#fff"},{"offset":0.1,"color":"#444"},{"offset":0.125,"color":"#444"},{"offset":0.125,"color":"#fff"},{"offset":0.225,"color":"#fff"},{"offset":0.225,"color":"#444"},{"offset":0.25,"color":"#444"},{"offset":0.25,"color":"#fff"},{"offset":0.35,"color":"#fff"},{"offset":0.35,"color":"#444"},{"offset":0.375,"color":"#444"},{"offset":0.375,"color":"#fff"},{"offset":0.475,"color":"#fff"},{"offset":0.475,"color":"#444"},{"offset":0.5,"color":"#444"},{"offset":0.5,"color":"#fff"},{"offset":0.6,"color":"#fff"},{"offset":0.6,"color":"#444"},{"offset":0.625,"color":"#444"},{"offset":0.625,"color":"#fff"},{"offset":0.725,"color":"#fff"},{"offset":0.725,"color":"#444"},{"offset":0.75,"color":"#444"},{"offset":0.75,"color":"#fff"},{"offset":0.85,"color":"#fff"},{"offset":0.85,"color":"#444"},{"offset":0.875,"color":"#444"},{"offset":0.875,"color":"#fff"},{"offset":0.975,"color":"#fff"},{"offset":0.975,"color":"#444"},{"offset":1,"color":"#444"}]}},
   "encoding": {"x": {"field": "cgs", "type": "nominal", "axis": null}, "xOffset": {"field": "series", "type": "nominal", "scale": {"domain": ["RENAL","pre-ADRENAL","LUMBAR"]}}, "y": {"field": "value", "type": "quantitative"}}},
  {"mark": {"type": "rule", "color": "#000", "strokeWidth": 1.2}, "encoding": {"x": {"field": "cgs", "type": "nominal", "axis": null}, "xOffset": {"field": "series", "type": "nominal", "scale": {"domain": ["RENAL","pre-ADRENAL","LUMBAR"]}}, "y": {"field": "value", "type": "quantitative"}, "y2": {"field": "err"}}},
  {"mark": {"type": "tick", "color": "#000", "thickness": 1.5, "size": 6}, "encoding": {"x": {"field": "cgs", "type": "nominal", "axis": null}, "xOffset": {"field": "series", "type": "nominal", "scale": {"domain": ["RENAL","pre-ADRENAL","LUMBAR"]}}, "y": {"field": "err", "type": "quantitative"}}},
  {"mark": {"type": "rule", "color": "#333", "strokeWidth": 2}, "encoding": {"y": {"datum": 0}}},
  {"data": {"name": "brackets"}, "transform": [{"filter": "datum.param === 'SNA' && datum.pbg === '8'"}], "layer": [
    {"mark": {"type": "rule", "color": "#333", "strokeWidth": 1.2, "x2Offset": -22}, "encoding": {"x": {"field": "a", "type": "nominal", "axis": null}, "x2": {"field": "m"}, "y": {"field": "top", "type": "quantitative"}}},
    {"mark": {"type": "rule", "color": "#333", "strokeWidth": 1.2, "xOffset": 22}, "encoding": {"x": {"field": "m", "type": "nominal", "axis": null}, "x2": {"field": "b"}, "y": {"field": "top", "type": "quantitative"}}},
    {"mark": {"type": "rule", "color": "#333", "strokeWidth": 1.2}, "encoding": {"x": {"field": "a", "type": "nominal", "axis": null}, "y": {"field": "top", "type": "quantitative"}, "y2": {"field": "bot"}}},
    {"mark": {"type": "rule", "color": "#333", "strokeWidth": 1.2}, "encoding": {"x": {"field": "b", "type": "nominal", "axis": null}, "y": {"field": "top", "type": "quantitative"}, "y2": {"field": "bot"}}},
    {"mark": {"type": "text", "text": "*", "fontSize": 25, "fontWeight": "bold", "baseline": "middle", "dy": 6, "color": "#000"}, "encoding": {"x": {"field": "m", "type": "nominal", "axis": null}, "y": {"field": "top", "type": "quantitative"}}}
  ]}
 ]}
]},
{"hconcat": [
 {"width": 142, "height": 26, "data": {"values": [{"series": "RENAL"}]},
  "encoding": {"x": {"field": "series", "type": "nominal", "scale": {"paddingInner": 0, "paddingOuter": 0}, "axis": null}},
  "layer": [
   {"mark": {"type": "bar", "width": 43, "xOffset": -41, "stroke": "#555", "strokeWidth": 1, "fill": {"gradient":"linear","x1":0,"y1":0,"x2":1.17,"y2":0.73,"stops":[{"offset":0,"color":"#fff"},{"offset":0.065,"color":"#fff"},{"offset":0.065,"color":"#444"},{"offset":0.1,"color":"#444"},{"offset":0.1,"color":"#fff"},{"offset":0.165,"color":"#fff"},{"offset":0.165,"color":"#444"},{"offset":0.2,"color":"#444"},{"offset":0.2,"color":"#fff"},{"offset":0.265,"color":"#fff"},{"offset":0.265,"color":"#444"},{"offset":0.3,"color":"#444"},{"offset":0.3,"color":"#fff"},{"offset":0.365,"color":"#fff"},{"offset":0.365,"color":"#444"},{"offset":0.4,"color":"#444"},{"offset":0.4,"color":"#fff"},{"offset":0.465,"color":"#fff"},{"offset":0.465,"color":"#444"},{"offset":0.5,"color":"#444"},{"offset":0.5,"color":"#fff"},{"offset":0.565,"color":"#fff"},{"offset":0.565,"color":"#444"},{"offset":0.6,"color":"#444"},{"offset":0.6,"color":"#fff"},{"offset":0.665,"color":"#fff"},{"offset":0.665,"color":"#444"},{"offset":0.7,"color":"#444"},{"offset":0.7,"color":"#fff"},{"offset":0.765,"color":"#fff"},{"offset":0.765,"color":"#444"},{"offset":0.8,"color":"#444"},{"offset":0.8,"color":"#fff"},{"offset":0.865,"color":"#fff"},{"offset":0.865,"color":"#444"},{"offset":0.9,"color":"#444"},{"offset":0.9,"color":"#fff"},{"offset":0.965,"color":"#fff"},{"offset":0.965,"color":"#444"},{"offset":1,"color":"#444"}]}}},
   {"mark": {"type": "text", "align": "left", "baseline": "middle", "dx": -15, "fontSize": 17, "color": "#111"}, "encoding": {"text": {"field": "series"}}}
  ]},
 {"width": 181, "height": 26, "data": {"values": [{"series": "pre-ADRENAL"}]},
  "encoding": {"x": {"field": "series", "type": "nominal", "scale": {"paddingInner": 0, "paddingOuter": 0}, "axis": null}},
  "layer": [
   {"mark": {"type": "bar", "width": 43, "xOffset": -72, "stroke": "#555", "strokeWidth": 1, "fill": {"gradient":"linear","x1":0,"y1":1,"x2":1.17,"y2":0.27,"stops":[{"offset":0,"color":"#333"},{"offset":0.06,"color":"#333"},{"offset":0.06,"color":"#ccc"},{"offset":0.1,"color":"#ccc"},{"offset":0.1,"color":"#333"},{"offset":0.16,"color":"#333"},{"offset":0.16,"color":"#ccc"},{"offset":0.2,"color":"#ccc"},{"offset":0.2,"color":"#333"},{"offset":0.26,"color":"#333"},{"offset":0.26,"color":"#ccc"},{"offset":0.3,"color":"#ccc"},{"offset":0.3,"color":"#333"},{"offset":0.36,"color":"#333"},{"offset":0.36,"color":"#ccc"},{"offset":0.4,"color":"#ccc"},{"offset":0.4,"color":"#333"},{"offset":0.46,"color":"#333"},{"offset":0.46,"color":"#ccc"},{"offset":0.5,"color":"#ccc"},{"offset":0.5,"color":"#333"},{"offset":0.56,"color":"#333"},{"offset":0.56,"color":"#ccc"},{"offset":0.6,"color":"#ccc"},{"offset":0.6,"color":"#333"},{"offset":0.66,"color":"#333"},{"offset":0.66,"color":"#ccc"},{"offset":0.7,"color":"#ccc"},{"offset":0.7,"color":"#333"},{"offset":0.76,"color":"#333"},{"offset":0.76,"color":"#ccc"},{"offset":0.8,"color":"#ccc"},{"offset":0.8,"color":"#333"},{"offset":0.86,"color":"#333"},{"offset":0.86,"color":"#ccc"},{"offset":0.9,"color":"#ccc"},{"offset":0.9,"color":"#333"},{"offset":0.96,"color":"#333"},{"offset":0.96,"color":"#ccc"},{"offset":1,"color":"#ccc"}]}}},
   {"mark": {"type": "text", "align": "left", "baseline": "middle", "dx": -45.5, "fontSize": 17, "color": "#111"}, "encoding": {"text": {"field": "series"}}}
  ]},
 {"width": 130, "height": 26, "data": {"values": [{"series": "LUMBAR"}]},
  "encoding": {"x": {"field": "series", "type": "nominal", "scale": {"paddingInner": 0, "paddingOuter": 0}, "axis": null}},
  "layer": [
   {"mark": {"type": "bar", "width": 43, "xOffset": -50, "stroke": "#555", "strokeWidth": 1, "fill": {"gradient":"linear","x1":0,"y1":0,"x2":0,"y2":1,"stops":[{"offset":0,"color":"#fff"},{"offset":0.17,"color":"#fff"},{"offset":0.17,"color":"#888"},{"offset":0.2,"color":"#888"},{"offset":0.2,"color":"#fff"},{"offset":0.37,"color":"#fff"},{"offset":0.37,"color":"#888"},{"offset":0.4,"color":"#888"},{"offset":0.4,"color":"#fff"},{"offset":0.57,"color":"#fff"},{"offset":0.57,"color":"#888"},{"offset":0.6,"color":"#888"},{"offset":0.6,"color":"#fff"},{"offset":0.77,"color":"#fff"},{"offset":0.77,"color":"#888"},{"offset":0.8,"color":"#888"},{"offset":0.8,"color":"#fff"},{"offset":1,"color":"#fff"}]}}},
   {"mark": {"type": "text", "align": "left", "baseline": "middle", "dx": -23, "fontSize": 17, "color": "#111"}, "encoding": {"text": {"field": "series"}}}
  ]}
], "spacing": 0}
]
}
